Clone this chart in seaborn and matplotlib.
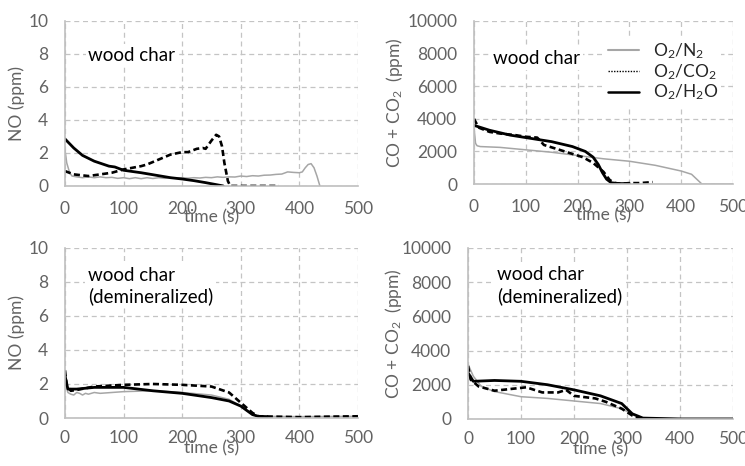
import matplotlib
matplotlib.use("Agg")
import matplotlib.pyplot as plt
from matplotlib.lines import Line2D
import seaborn as sns
import pandas as pd

# ---------------- data ----------------
# wood char, NO (ppm)
t_no_n2 = [0, 3, 8, 12, 20, 30, 40, 50, 60, 70, 80, 90, 100, 110, 120, 130, 140, 150,
           160, 170, 180, 190, 200, 210, 220, 230, 240, 250, 260, 270, 280, 290, 300,
           310, 320, 330, 340, 350, 360, 370, 380, 390, 400, 405, 410, 415, 420, 425,
           430, 435]
no_n2 = [2.2, 1.4, 0.8, 0.6, 0.55, 0.5, 0.55, 0.5, 0.55, 0.5, 0.52, 0.46, 0.5, 0.44,
         0.5, 0.44, 0.5, 0.45, 0.5, 0.46, 0.5, 0.47, 0.5, 0.47, 0.5, 0.48, 0.52, 0.5,
         0.55, 0.52, 0.55, 0.54, 0.6, 0.57, 0.62, 0.6, 0.65, 0.66, 0.7, 0.72, 0.85,
         0.82, 0.8, 0.85, 1.1, 1.3, 1.35, 1.1, 0.6, 0.0]
t_no_co2 = [0, 15, 40, 60, 80, 100, 130, 140, 160, 180, 200, 210, 225, 235, 240, 250,
            258, 263, 268, 272, 278, 282, 300, 330, 365]
no_co2 = [0.9, 0.7, 0.6, 0.7, 0.8, 1.0, 1.2, 1.3, 1.6, 1.9, 2.05, 2.05, 2.25, 2.3,
          2.25, 2.75, 3.1, 3.0, 2.4, 1.4, 0.3, 0.0, 0.0, 0.0, 0.0]
t_no_h2o = [0, 15, 30, 50, 75, 85, 100, 130, 160, 180, 200, 220, 240, 255, 270]
no_h2o = [2.85, 2.3, 1.85, 1.5, 1.2, 1.15, 0.95, 0.8, 0.62, 0.5, 0.42, 0.32, 0.2, 0.1, 0.0]

# wood char, CO + CO2 (ppm)
t_co_n2 = [0, 3, 6, 12, 50, 100, 150, 200, 250, 300, 350, 400, 420, 430, 440, 470, 500]
co_n2 = [3500, 2500, 2350, 2300, 2250, 2100, 1950, 1750, 1550, 1400, 1150, 800, 600,
         300, 0, 0, 0]
t_co_co2 = [0, 5, 10, 30, 50, 80, 100, 122, 128, 135, 160, 190, 210, 230, 250, 262,
            272, 285, 300, 320, 345]
co_co2 = [4000, 3700, 3450, 3200, 3100, 3000, 2900, 2850, 2650, 2400, 2150, 1850, 1650,
          1300, 750, 250, 60, 20, 60, 60, 120]
t_co_h2o = [0, 30, 70, 100, 150, 190, 215, 230, 240, 248, 256, 265, 280, 300]
co_h2o = [3600, 3300, 3000, 2850, 2600, 2300, 2000, 1650, 1200, 700, 300, 80, 30, 30]

# demineralized wood char, NO (ppm)
t_dno_n2 = [0, 5, 10, 15, 20, 25, 30, 35, 40, 50, 60, 80, 100, 150, 200, 250, 280,
            300, 320, 330, 400, 500]
dno_n2 = [2.2, 1.5, 1.4, 1.35, 1.5, 1.45, 1.35, 1.45, 1.4, 1.5, 1.45, 1.5, 1.55, 1.6,
          1.5, 1.35, 1.1, 0.7, 0.2, 0.1, 0.08, 0.1]
t_dno_co2 = [0, 3, 10, 20, 50, 100, 150, 200, 250, 280, 300, 320, 330, 400, 450, 500]
dno_co2 = [2.8, 1.9, 1.6, 1.65, 1.85, 1.95, 2.0, 1.95, 1.85, 1.5, 0.9, 0.3, 0.1,
           0.05, 0.08, 0.1]
t_dno_h2o = [0, 5, 20, 50, 100, 150, 200, 250, 280, 300, 320, 330, 345]
dno_h2o = [2.5, 1.7, 1.7, 1.8, 1.8, 1.6, 1.45, 1.2, 1.0, 0.7, 0.2, 0.1, 0.08]

# demineralized wood char, CO + CO2 (ppm)
t_dco_n2 = [0, 10, 25, 50, 100, 150, 200, 250, 290, 315, 330, 400, 500]
dco_n2 = [3200, 2500, 1900, 1600, 1300, 1200, 1050, 900, 600, 200, 0, 0, 0]
t_dco_co2 = [0, 5, 20, 50, 80, 110, 140, 170, 185, 200, 240, 260, 290, 310, 325, 340]
dco_co2 = [3100, 2300, 1900, 1650, 1750, 1850, 1550, 1550, 1700, 1350, 1200, 1000,
           600, 200, 0, 0]
t_dco_h2o = [0, 10, 50, 100, 150, 200, 250, 290, 310, 330, 400, 500]
dco_h2o = [2700, 2200, 2250, 2200, 2000, 1700, 1350, 900, 300, 50, 0, 0]

series_labels = ["O$_2$/N$_2$", "O$_2$/CO$_2$", "O$_2$/H$_2$O"]
x_ticks = [0, 100, 200, 300, 400, 500]

# ---------------- style ----------------
sns.set_theme(style="white")
plt.rcParams["font.family"] = ["Lato", "DejaVu Sans"]
plt.rcParams["mathtext.fontset"] = "custom"
plt.rcParams["mathtext.rm"] = "Lato"
plt.rcParams["mathtext.it"] = "Lato:italic"

GRID = "#c4c4c4"
TXT = "#636363"
N2_COLOR = "#a6a6a6"

fig = plt.figure(figsize=(7.45, 4.66), dpi=100)

panels = [
    dict(rect=[0.0872, 0.601, 0.3933, 0.354], ymax=10, yticks=[0, 2, 4, 6, 8, 10],
         ylabel="NO (ppm)", ylab_x=-0.135, xlab_y=-0.14, xpad=11,
         data=[(t_no_n2, no_n2), (t_no_co2, no_co2), (t_no_h2o, no_h2o)],
         text="wood char", tx=40, ty=7.9),
    dict(rect=[0.6362, 0.605, 0.3477, 0.350], ymax=10000,
         yticks=[0, 2000, 4000, 6000, 8000, 10000],
         ylabel="CO + CO$_2$  (ppm)", ylab_x=-0.265, xlab_y=-0.14, xpad=11,
         data=[(t_co_n2, co_n2), (t_co_co2, co_co2), (t_co_h2o, co_h2o)],
         text="wood char", tx=37, ty=7700),
    dict(rect=[0.0872, 0.103, 0.3933, 0.365], ymax=10, yticks=[0, 2, 4, 6, 8, 10],
         ylabel="NO (ppm)", ylab_x=-0.135, xlab_y=-0.13, xpad=8.5,
         data=[(t_dno_n2, dno_n2), (t_dno_co2, dno_co2), (t_dno_h2o, dno_h2o)],
         text="wood char\n(demineralized)", tx=39, ty=7.75),
    dict(rect=[0.6282, 0.101, 0.3557, 0.367], ymax=10000,
         yticks=[0, 2000, 4000, 6000, 8000, 10000],
         ylabel="CO + CO$_2$  (ppm)", ylab_x=-0.24, xlab_y=-0.13, xpad=9,
         data=[(t_dco_n2, dco_n2), (t_dco_co2, dco_co2), (t_dco_h2o, dco_h2o)],
         text="wood char\n(demineralized)", tx=55, ty=7800),
]

line_styles = [
    dict(color=N2_COLOR, linewidth=1.1, linestyle="-"),
    dict(color="black", linewidth=1.9, dashes=(2.3, 1.3)),
    dict(color="black", linewidth=2.0, linestyle="-"),
]

for i, p in enumerate(panels):
    ax = fig.add_axes(p["rect"])
    for (tt, vv), st, lab in zip(p["data"], line_styles, series_labels):
        df = pd.DataFrame({"t": tt, "v": vv})
        kw = dict(st)
        dashes = kw.pop("dashes", None)
        sns.lineplot(data=df, x="t", y="v", ax=ax, sort=False, estimator=None,
                     label=lab, legend=False, **kw)
        if dashes is not None:
            ax.lines[-1].set_dashes(dashes)
            ax.lines[-1].set_dash_capstyle("butt")

    ax.set_xlim(0, 500)
    ax.set_ylim(0, p["ymax"])
    ax.set_xticks(x_ticks)
    ax.set_yticks(p["yticks"])
    ax.grid(True, color=GRID, linestyle=(0, (4, 3)), linewidth=0.9)
    ax.set_axisbelow(True)
    for side in ("top", "right"):
        ax.spines[side].set_visible(False)
    for side in ("left", "bottom"):
        ax.spines[side].set_color("#bfbfbf")
        ax.spines[side].set_linewidth(1.2)
    ax.tick_params(axis="both", length=0, labelsize=12.5, labelcolor=TXT)
    ax.tick_params(axis="x", pad=p["xpad"])
    ax.tick_params(axis="y", pad=12)

    ax.set_xlabel("time (s)", fontsize=12.5, color=TXT)
    ax.set_ylabel(p["ylabel"], fontsize=12.5, color=TXT)
    ax.xaxis.set_label_coords(0.5, p["xlab_y"])
    ax.yaxis.set_label_coords(p["ylab_x"], 0.5)

    ax.text(p["tx"], p["ty"], p["text"], fontsize=13.5, color="black",
            ha="left", va="center", linespacing=1.25,
            bbox=dict(facecolor="white", edgecolor="none", pad=2))

    if i == 1:
        handles = [
            Line2D([], [], color=N2_COLOR, linewidth=1.5),
            Line2D([], [], color="black", linewidth=1.0, linestyle=(0, (1, 1))),
            Line2D([], [], color="black", linewidth=1.8),
        ]
        leg = ax.legend(handles, series_labels, loc="upper left",
                        bbox_to_anchor=(0.505, 0.895), fontsize=12.5,
                        frameon=True, fancybox=False, borderpad=0.2,
                        borderaxespad=0, handlelength=1.75, handletextpad=0.8,
                        labelspacing=0.05)
        leg.get_frame().set_facecolor("white")
        leg.get_frame().set_edgecolor("none")
        leg.get_frame().set_alpha(1)

fig.savefig("out.png", dpi=100, facecolor="white")
